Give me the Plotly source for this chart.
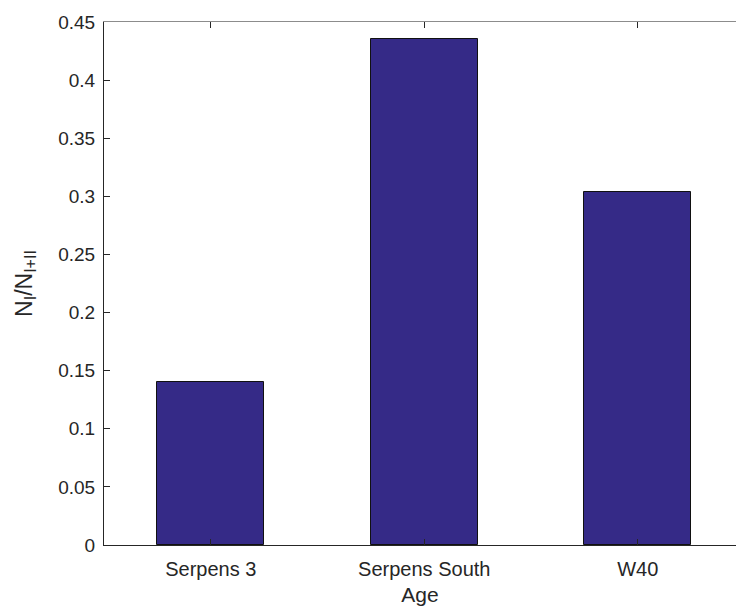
import plotly.graph_objects as go

categories = ["Serpens 3", "Serpens South", "W40"]
ratios = [0.140, 0.435, 0.304]
y_ticks = [0, 0.05, 0.1, 0.15, 0.2, 0.25, 0.3, 0.35, 0.4, 0.45]
y_ticklabels = ["0", "0.05", "0.1", "0.15", "0.2", "0.25", "0.3", "0.35", "0.4", "0.45"]

FONT = "Liberation Sans, Arial, Helvetica, sans-serif"
AXC = "#262626"

fig = go.Figure()
fig.add_trace(go.Bar(
    x=list(range(len(categories))), y=ratios, width=0.5,
    marker=dict(color="#352A87", line=dict(color="#111111", width=1)),
    showlegend=False,
))
fig.add_trace(go.Scatter(x=[None], y=[None], xaxis="x2", showlegend=False))

fig.update_layout(
    width=736, height=606,
    margin=dict(l=104, r=0, t=22, b=61, autoexpand=False),
    paper_bgcolor="white", plot_bgcolor="white",
    font=dict(family=FONT, size=18, color=AXC),
    xaxis=dict(
        range=[-0.5, 2.46], tickmode="array",
        tickvals=list(range(len(categories))), ticktext=categories,
        ticks="inside", ticklen=6, tickwidth=1, tickcolor=AXC,
        showline=True, linecolor=AXC, linewidth=1,
        showgrid=False, zeroline=False,
        tickfont=dict(size=20, color=AXC), ticklabelstandoff=6,
        title=dict(text="Age", font=dict(size=21, color=AXC), standoff=12),
    ),
    xaxis2=dict(
        overlaying="x", side="top", matches="x",
        tickmode="array", tickvals=list(range(len(categories))),
        showticklabels=False,
        ticks="inside", ticklen=6, tickwidth=1, tickcolor=AXC,
        showline=True, linecolor="#8c8c8c", linewidth=1,
        showgrid=False, zeroline=False,
    ),
    yaxis=dict(
        range=[0, 0.45], tickmode="array", tickvals=y_ticks, ticktext=y_ticklabels,
        ticks="inside", ticklen=6, tickwidth=1, tickcolor=AXC,
        showline=True, linecolor=AXC, linewidth=1,
        showgrid=False, zeroline=False,
        tickfont=dict(size=19, color=AXC), ticklabelstandoff=4,
        title=dict(text="N<sub>I</sub>/N<sub>I+II</sub>", font=dict(size=23, color=AXC), standoff=19),
    ),
    bargap=0,
)

fig.write_html(
    "out.html",
    config={"displayModeBar": False},
    post_script="document.body.style.margin='0';document.body.style.overflow='hidden';",
)
